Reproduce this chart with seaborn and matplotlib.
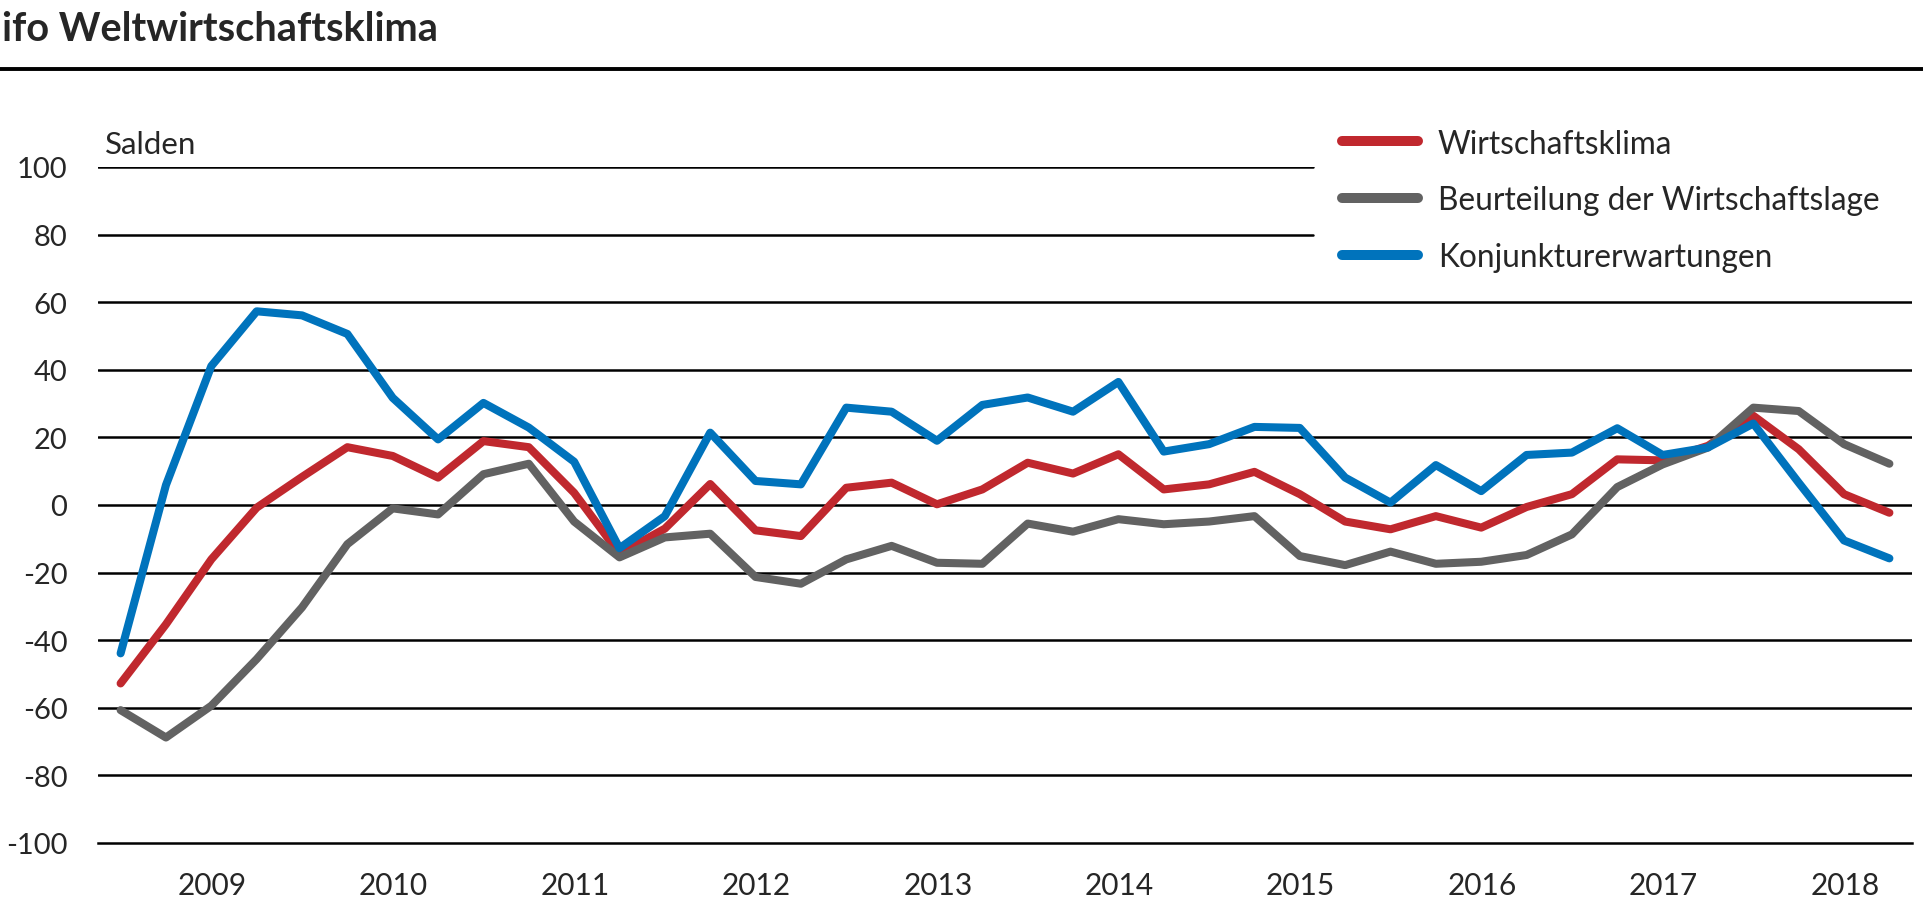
import pandas as pd
import matplotlib
matplotlib.use("Agg")
import matplotlib.pyplot as plt
import seaborn as sns

# quarterly values 2009 Q1 - 2018 Q4 (Salden)
quarters = [f"{y} Q{q}" for y in range(2009, 2019) for q in range(1, 5)]

klima = [-52.8, -35.3, -16.1, -0.8, 8.3, 17.1, 14.5, 8.1, 18.9, 17.1,
         3.6, -14.4, -7.0, 6.2, -7.5, -9.2, 5.1, 6.6, 0.2, 4.6,
         12.5, 9.3, 15.0, 4.6, 6.1, 9.8, 3.2, -4.9, -7.2, -3.3,
         -6.7, -0.6, 3.2, 13.5, 13.2, 17.5, 26.4, 16.5, 3.2, -2.3]

lage = [-60.7, -68.8, -59.4, -45.6, -30.3, -11.6, -1.0, -2.8, 9.1, 12.2,
        -4.9, -15.5, -9.6, -8.5, -21.3, -23.3, -16.1, -12.1, -17.1, -17.4,
        -5.5, -7.9, -4.2, -5.7, -4.9, -3.3, -15.1, -17.8, -13.8, -17.4,
        -16.8, -14.8, -8.7, 5.3, 12.0, 17.0, 28.8, 27.8, 18.0, 12.2]

erwartungen = [-43.9, 5.9, 41.1, 57.3, 56.1, 50.6, 31.7, 19.4, 30.2, 22.9,
               12.8, -12.8, -3.3, 21.4, 7.1, 6.1, 28.8, 27.6, 19.0, 29.6,
               31.8, 27.6, 36.4, 15.8, 18.0, 23.1, 22.8, 8.1, 0.7, 11.8,
               4.1, 14.8, 15.5, 22.7, 14.8, 17.0, 24.1, 6.6, -10.5, -15.8]

series_names = ["Wirtschaftsklima", "Beurteilung der Wirtschaftslage", "Konjunkturerwartungen"]
colors = {"Wirtschaftsklima": "#C0282E",
          "Beurteilung der Wirtschaftslage": "#626262",
          "Konjunkturerwartungen": "#0073BC"}
years = list(range(2009, 2019))
y_ticks = list(range(-100, 101, 20))

# long format for seaborn
x_pos = [int(q[:4]) + (int(q[-1]) - 0.5) / 4 for q in quarters]
df = pd.DataFrame({
    "x": x_pos * 3,
    "value": klima + lage + erwartungen,
    "series": [series_names[0]] * 40 + [series_names[1]] * 40 + [series_names[2]] * 40,
})

sns.set_style("white")
plt.rcParams["font.family"] = ["Lato", "DejaVu Sans"]

fig = plt.figure(figsize=(19.24, 9.12), dpi=100)
ax = fig.add_axes([0.0509, 0.0746, 0.9429, 0.7412])

# grid lines (top two stop before the legend)
for v in y_ticks[1:]:
    xmax = 0.67 if v >= 80 else 1.0
    ax.axhline(v, xmin=0, xmax=xmax, color="black", lw=1.8, zorder=1)

sns.lineplot(data=df, x="x", y="value", hue="series", hue_order=series_names,
             palette=colors, linewidth=5.8, ax=ax, zorder=3)
for ln in ax.lines[-3:]:
    ln.set_solid_capstyle("round")
    ln.set_solid_joinstyle("round")

ax.set_xlim(2009, 2019)
ax.set_ylim(-100, 100)
ax.set_xlabel("")
ax.set_ylabel("")

for s in ["top", "right", "left"]:
    ax.spines[s].set_visible(False)
ax.spines["bottom"].set_linewidth(1.8)
ax.spines["bottom"].set_color("black")

ax.set_yticks(y_ticks)
ax.set_yticklabels([str(v) for v in y_ticks], fontsize=21)
ax.tick_params(axis="y", length=0, pad=22)

ax.set_xticks(list(range(2009, 2020)))
ax.set_xticklabels([])
ax.set_xticks([y + 0.63 for y in years], minor=True)
ax.set_xticklabels([str(y) for y in years], minor=True, fontsize=21.5)
ax.tick_params(axis="x", which="major", direction="out", length=17, width=1.8, color="black")
ax.tick_params(axis="x", which="minor", length=0, pad=20)

ax.text(0.004, 1.014, "Salden", transform=ax.transAxes, fontsize=22.5, ha="left", va="bottom")

handles, labels = ax.get_legend_handles_labels()
for h in handles:
    h.set_linewidth(7.2)
    h.set_solid_capstyle("round")
leg = ax.legend(handles, labels, loc="upper left", bbox_to_anchor=(0.6975, 0.858),
                bbox_transform=fig.transFigure, frameon=False, fontsize=22.8,
                handlelength=2.4, handletextpad=0.63, labelspacing=0.85,
                borderpad=0, borderaxespad=0)

fig.text(0.001, 0.968, "ifo Weltwirtschaftsklima", fontsize=28.6, fontweight="bold",
         ha="left", va="center")
fig.add_artist(plt.Line2D([0, 1], [0.923, 0.923], color="black", lw=2.8,
                          transform=fig.transFigure))

fig.savefig("out.png", dpi=100, facecolor="white")
